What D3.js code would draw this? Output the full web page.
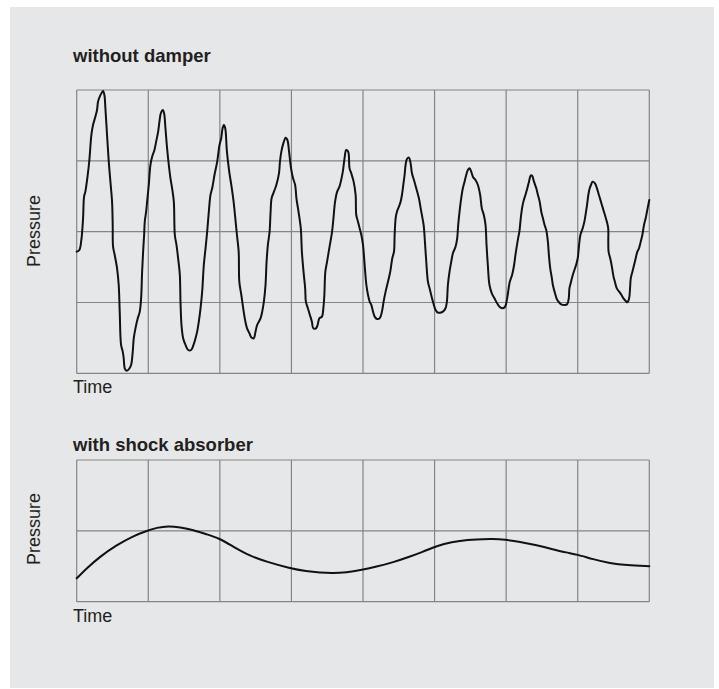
<!DOCTYPE html>
<html>
<head>
<meta charset="utf-8">
<script src="https://cdn.jsdelivr.net/npm/d3@7/dist/d3.min.js"></script>
<style>
  html, body { margin: 0; padding: 0; background: #ffffff; }
  svg { display: block; }
  text { font-family: "Liberation Sans", Arial, Helvetica, sans-serif; fill: #231f20; }
</style>
</head>
<body>
<div id="chart"></div>
<script>
// ---- Data (time in grid columns, pressure in grid rows) ----
const panelTitles = ["without damper", "with shock absorber"];
const xAxisLabel = "Time";
const yAxisLabel = "Pressure";
const timeColumns = [0, 1, 2, 3, 4, 5, 6, 7, 8];
const topRows = [0, 1, 2, 3, 4];
const bottomRows = [0, 1, 2];

// without damper: [time, pressure]
const topTrace = [
  [0,1.718],[0.037,1.741],[0.065,1.882],[0.089,2.188],[0.103,2.494],[0.121,2.565],[0.154,2.800],[0.177,3.012],
  [0.205,3.365],[0.228,3.506],[0.261,3.624],[0.284,3.718],[0.298,3.835],[0.322,3.906],[0.345,3.953],[0.368,3.986],
  [0.387,3.929],[0.401,3.741],[0.424,3.365],[0.448,2.988],[0.471,2.706],[0.494,2.424],[0.503,2.094],[0.508,1.788],
  [0.531,1.671],[0.564,1.482],[0.587,1.247],[0.601,0.871],[0.620,0.400],[0.643,0.306],[0.657,0.212],[0.671,0.071],
  [0.695,0.038],[0.727,0.056],[0.760,0.118],[0.783,0.306],[0.797,0.494],[0.821,0.635],[0.853,0.776],[0.881,0.871],
  [0.900,1.059],[0.914,1.435],[0.928,1.718],[0.942,1.953],[0.951,2.141],[0.970,2.282],[0.984,2.424],[1.007,2.659],
  [1.030,2.941],[1.054,3.059],[1.086,3.153],[1.110,3.271],[1.138,3.412],[1.156,3.553],[1.175,3.671],[1.203,3.718],
  [1.221,3.671],[1.240,3.459],[1.263,3.176],[1.287,2.941],[1.310,2.753],[1.333,2.612],[1.357,2.424],[1.371,1.953],
  [1.394,1.812],[1.417,1.624],[1.441,1.388],[1.450,1.012],[1.464,0.682],[1.487,0.494],[1.520,0.400],[1.557,0.329],
  [1.599,0.329],[1.632,0.400],[1.660,0.494],[1.683,0.588],[1.706,0.729],[1.730,0.918],[1.753,1.153],[1.776,1.529],
  [1.800,1.765],[1.823,2.000],[1.846,2.282],[1.869,2.518],[1.893,2.612],[1.925,2.800],[1.963,2.988],[1.995,3.224],
  [2.019,3.318],[2.038,3.459],[2.056,3.506],[2.075,3.459],[2.099,3.129],[2.131,2.847],[2.160,2.659],[2.192,2.424],
  [2.216,2.188],[2.239,1.953],[2.263,1.718],[2.272,1.294],[2.300,1.106],[2.333,0.871],[2.357,0.729],[2.380,0.635],
  [2.413,0.565],[2.441,0.504],[2.474,0.494],[2.498,0.588],[2.521,0.682],[2.568,0.776],[2.592,0.871],[2.615,1.012],
  [2.638,1.247],[2.653,1.576],[2.671,1.812],[2.695,2.000],[2.709,2.282],[2.723,2.471],[2.756,2.565],[2.789,2.659],
  [2.826,2.824],[2.840,2.988],[2.859,3.129],[2.887,3.247],[2.920,3.327],[2.944,3.294],[2.967,3.129],[2.995,2.894],
  [3.023,2.753],[3.052,2.659],[3.070,2.471],[3.099,2.282],[3.131,2.047],[3.146,1.718],[3.169,1.435],[3.192,1.200],
  [3.202,1.012],[3.230,0.918],[3.258,0.824],[3.286,0.729],[3.305,0.635],[3.343,0.635],[3.366,0.682],[3.390,0.776],
  [3.427,0.800],[3.446,0.918],[3.460,1.106],[3.474,1.435],[3.498,1.576],[3.521,1.718],[3.545,1.859],[3.568,2.000],
  [3.587,2.188],[3.610,2.424],[3.639,2.565],[3.671,2.635],[3.695,2.729],[3.718,2.847],[3.742,3.035],[3.765,3.153],
  [3.793,3.129],[3.812,2.894],[3.836,2.824],[3.869,2.706],[3.897,2.518],[3.906,2.235],[3.930,2.141],[3.953,2.047],
  [3.977,1.953],[4.000,1.812],[4.023,1.529],[4.047,1.247],[4.070,1.106],[4.093,1.012],[4.116,0.965],[4.140,0.871],
  [4.163,0.800],[4.195,0.767],[4.233,0.776],[4.265,0.871],[4.288,1.012],[4.316,1.153],[4.349,1.294],[4.381,1.435],
  [4.409,1.624],[4.433,1.718],[4.442,1.953],[4.456,2.188],[4.474,2.282],[4.502,2.353],[4.526,2.424],[4.544,2.518],
  [4.563,2.659],[4.581,2.800],[4.595,2.941],[4.614,3.026],[4.642,3.045],[4.665,2.965],[4.684,2.824],[4.712,2.729],
  [4.744,2.612],[4.781,2.471],[4.814,2.282],[4.847,2.094],[4.865,1.859],[4.884,1.576],[4.907,1.294],[4.930,1.200],
  [4.953,1.106],[4.977,1.012],[5.014,0.894],[5.047,0.856],[5.079,0.856],[5.116,0.871],[5.153,0.918],[5.172,1.012],
  [5.186,1.247],[5.209,1.435],[5.233,1.576],[5.256,1.694],[5.293,1.788],[5.316,1.906],[5.330,2.094],[5.349,2.282],
  [5.372,2.471],[5.395,2.612],[5.419,2.706],[5.442,2.800],[5.465,2.871],[5.488,2.894],[5.512,2.847],[5.535,2.776],
  [5.572,2.729],[5.605,2.659],[5.637,2.518],[5.660,2.329],[5.688,2.235],[5.712,2.094],[5.726,1.812],[5.744,1.529],
  [5.767,1.247],[5.800,1.129],[5.837,1.059],[5.874,0.988],[5.907,0.941],[5.953,0.918],[5.986,0.941],[6.014,1.059],
  [6.051,1.294],[6.083,1.388],[6.111,1.529],[6.130,1.671],[6.144,1.765],[6.167,1.906],[6.185,2.000],[6.204,2.188],
  [6.222,2.329],[6.241,2.424],[6.269,2.518],[6.296,2.612],[6.319,2.706],[6.343,2.791],[6.361,2.791],[6.389,2.706],
  [6.421,2.612],[6.444,2.518],[6.468,2.424],[6.491,2.282],[6.514,2.188],[6.537,2.094],[6.560,2.024],[6.583,1.859],
  [6.597,1.671],[6.616,1.482],[6.639,1.341],[6.653,1.247],[6.676,1.153],[6.704,1.059],[6.731,1.012],[6.769,0.974],
  [6.815,0.965],[6.852,0.974],[6.875,1.059],[6.884,1.200],[6.907,1.294],[6.931,1.388],[6.954,1.459],[6.977,1.529],
  [7.000,1.624],[7.019,1.812],[7.037,1.953],[7.069,2.047],[7.093,2.141],[7.116,2.282],[7.130,2.376],[7.148,2.518],
  [7.167,2.612],[7.185,2.659],[7.208,2.706],[7.241,2.682],[7.269,2.612],[7.296,2.518],[7.324,2.424],[7.352,2.329],
  [7.380,2.235],[7.407,2.141],[7.426,2.047],[7.427,1.859],[7.431,1.718],[7.454,1.624],[7.477,1.506],[7.500,1.365],
  [7.519,1.294],[7.546,1.200],[7.579,1.153],[7.611,1.106],[7.639,1.059],[7.671,1.021],[7.694,1.002],[7.718,1.059],
  [7.731,1.200],[7.741,1.341],[7.764,1.435],[7.787,1.529],[7.810,1.624],[7.833,1.718],[7.856,1.765],[7.880,1.859],
  [7.903,1.953],[7.926,2.094],[7.949,2.188],[7.963,2.259],[7.981,2.353],[8.000,2.447]
];

// with shock absorber: [time, pressure]
const bottomTrace = [
  [0,0.33],[0.14,0.47],[0.325,0.636],[0.559,0.80],[0.79,0.928],[0.99,1.003],[1.117,1.045],[1.28,1.069],
  [1.443,1.05],[1.63,1.013],[1.816,0.951],[1.99,0.895],[2.187,0.777],[2.42,0.645],[2.654,0.565],[2.98,0.471],
  [3.21,0.429],[3.397,0.41],[3.584,0.401],[3.77,0.415],[3.957,0.442],[4.19,0.494],[4.42,0.556],[4.655,0.636],
  [4.84,0.706],[4.97,0.763],[5.12,0.815],[5.353,0.862],[5.586,0.881],[5.82,0.886],[5.98,0.876],[6.19,0.847],
  [6.425,0.797],[6.657,0.74],[6.843,0.692],[6.987,0.669],[7.215,0.598],[7.45,0.542],[7.68,0.514],[8.0,0.5]
];

// ---- Drawing ----
const W = 719, H = 689;
const svg = d3.select("#chart").append("svg").attr("width", W).attr("height", H);

svg.append("rect").attr("x", 10).attr("y", 7).attr("width", 704).attr("height", 681).attr("fill", "#e6e7e8");

const gridColor = "#858585";
const x = d3.scaleLinear().domain([0, 8]).range([76.7, 649.3]);

function panel(rows, yRange, trace, curve, title, titleY, timeY, pressureY) {
  const y = d3.scaleLinear().domain([0, d3.max(rows)]).range(yRange);
  const g = svg.append("g");
  // vertical grid
  g.selectAll("line.v").data(timeColumns).join("line")
    .attr("x1", d => x(d)).attr("x2", d => x(d))
    .attr("y1", y(d3.max(rows))).attr("y2", y(0))
    .attr("stroke", gridColor).attr("stroke-width", 1.2);
  // horizontal grid
  g.selectAll("line.h").data(rows).join("line")
    .attr("x1", x(0)).attr("x2", x(8))
    .attr("y1", d => y(d)).attr("y2", d => y(d))
    .attr("stroke", gridColor).attr("stroke-width", 1.2);
  // trace
  const line = d3.line().x(d => x(d[0])).y(d => y(d[1])).curve(curve);
  g.append("path").datum(trace).attr("d", line)
    .attr("fill", "none").attr("stroke", "#111").attr("stroke-width", 2)
    .attr("stroke-linejoin", "round").attr("stroke-linecap", "round");
  // titles
  svg.append("text").attr("x", 73).attr("y", titleY)
    .style("font-size", "18.5px").style("font-weight", "bold").text(title);
  svg.append("text").attr("x", 73).attr("y", timeY)
    .style("font-size", "18px").text(xAxisLabel);
  svg.append("text").attr("transform", `translate(40,${pressureY}) rotate(-90)`)
    .attr("text-anchor", "middle").style("font-size", "18px").text(yAxisLabel);
}

panel(topRows, [373.3, 90], topTrace, d3.curveCatmullRom.alpha(0.5), panelTitles[0], 62.3, 393.3, 231);
panel(bottomRows, [601.7, 460], bottomTrace, d3.curveBasis, panelTitles[1], 451, 621.7, 529);
</script>
</body>
</html>
